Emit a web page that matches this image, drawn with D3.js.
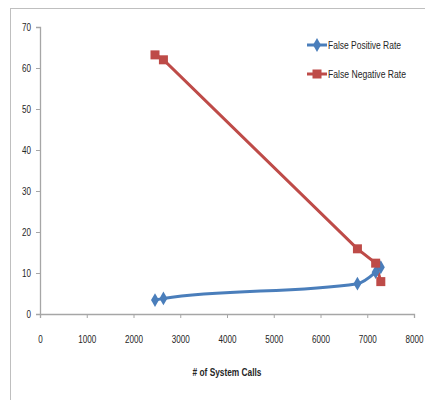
<!DOCTYPE html>
<html>
<head>
<meta charset="utf-8">
<script src="https://cdn.jsdelivr.net/npm/d3@7"></script>
<style>
  body { margin: 0; background: #fff; }
  text { font-family: "Liberation Sans", Arial, sans-serif; }
</style>
</head>
<body>
<svg width="425" height="400"></svg>
<script>
// data
var systemCalls = [2460, 2640, 6790, 7180, 7290];
var falsePositive = [3.4, 3.8, 7.4, 10.2, 11.4];
var falseNegative = [63.2, 62, 15.9, 12.4, 7.9];
var xTicks = [0, 1000, 2000, 3000, 4000, 5000, 6000, 7000, 8000];
var yTicks = [0, 10, 20, 30, 40, 50, 60, 70];

var svg = d3.select('svg');

// outer chart border
svg.append('rect')
  .attr('x', 10.5).attr('y', 8.5)
  .attr('width', 600).attr('height', 600)
  .attr('fill', 'none')
  .attr('stroke', '#bfbfbf');

var scaleX = d3.scaleLinear().domain([0, 8000]).range([40, 414]);
var scaleY = d3.scaleLinear().domain([0, 70]).range([314, 27]);

var xAxis = svg.append('g')
  .attr('transform', 'translate(0,314)')
  .call(d3.axisBottom(scaleX).tickValues(xTicks).tickSizeOuter(0).tickSize(4).tickPadding(17).tickFormat(d3.format('d')));

var yAxis = svg.append('g')
  .attr('transform', 'translate(40,0)')
  .call(d3.axisLeft(scaleY).tickValues(yTicks).tickSizeOuter(0).tickSize(4).tickPadding(5));

// condensed look: squeeze each label to a narrow width
[xAxis, yAxis].forEach(function(a) {
  a.select('.domain').attr('stroke', '#a6a6a6').attr('stroke-width', 1.3);
  a.selectAll('.tick line').attr('stroke', '#a6a6a6');
  a.selectAll('.tick text')
    .attr('fill', '#262626')
    .attr('font-size', 11.5)
    .attr('font-family', '"Liberation Sans", Arial, sans-serif')
    .attr('textLength', function() { return this.textContent.length * 4.5; })
    .attr('lengthAdjust', 'spacingAndGlyphs');
});

svg.append('text')
  .attr('x', 227)
  .attr('y', 376)
  .attr('text-anchor', 'middle')
  .attr('font-size', 11.5)
  .attr('font-weight', 'bold')
  .attr('fill', '#262626')
  .attr('textLength', 69)
  .attr('lengthAdjust', 'spacingAndGlyphs')
  .text('# of System Calls');

var fpData = systemCalls.map(function(d, i) { return [d, falsePositive[i]]; });
var fnData = systemCalls.map(function(d, i) { return [d, falseNegative[i]]; });

var blue = '#4a7ebb';
var red = '#be4b48';

var smoothLine = d3.line()
  .x(function(d) { return scaleX(d[0]); })
  .y(function(d) { return scaleY(d[1]); })
  .curve(d3.curveMonotoneX);

var straightLine = d3.line()
  .x(function(d) { return scaleX(d[0]); })
  .y(function(d) { return scaleY(d[1]); });

svg.append('path')
  .attr('d', smoothLine(fpData))
  .attr('fill', 'none')
  .attr('stroke', blue)
  .attr('stroke-width', 3);

svg.append('path')
  .attr('d', straightLine(fnData))
  .attr('fill', 'none')
  .attr('stroke', red)
  .attr('stroke-width', 3);

var diamond = d3.symbol().type(d3.symbolDiamond).size(55);

svg.selectAll('.fp')
  .data(fpData)
  .enter()
  .append('path')
  .attr('class', 'fp')
  .attr('d', diamond)
  .attr('transform', function(d) { return 'translate(' + scaleX(d[0]) + ',' + scaleY(d[1]) + ')'; })
  .attr('fill', blue);

svg.selectAll('.fn')
  .data(fnData)
  .enter()
  .append('rect')
  .attr('class', 'fn')
  .attr('x', function(d) { return scaleX(d[0]) - 4.5; })
  .attr('y', function(d) { return scaleY(d[1]) - 4.5; })
  .attr('width', 9)
  .attr('height', 9)
  .attr('fill', red);

// legend
var legend = svg.append('g');

legend.append('line')
  .attr('x1', 307).attr('x2', 327).attr('y1', 45).attr('y2', 45)
  .attr('stroke', blue).attr('stroke-width', 3);
legend.append('path')
  .attr('d', diamond)
  .attr('transform', 'translate(317,45)')
  .attr('fill', blue);
legend.append('text')
  .attr('x', 328).attr('y', 49)
  .attr('font-size', 11.5)
  .attr('fill', '#262626')
  .attr('textLength', 73)
  .attr('lengthAdjust', 'spacingAndGlyphs')
  .text('False Positive Rate');

legend.append('line')
  .attr('x1', 307).attr('x2', 327).attr('y1', 74).attr('y2', 74)
  .attr('stroke', red).attr('stroke-width', 3);
legend.append('rect')
  .attr('x', 312.5).attr('y', 69.5).attr('width', 9).attr('height', 9)
  .attr('fill', red);
legend.append('text')
  .attr('x', 328).attr('y', 78)
  .attr('font-size', 11.5)
  .attr('fill', '#262626')
  .attr('textLength', 78)
  .attr('lengthAdjust', 'spacingAndGlyphs')
  .text('False Negative Rate');
</script>
</body>
</html>
